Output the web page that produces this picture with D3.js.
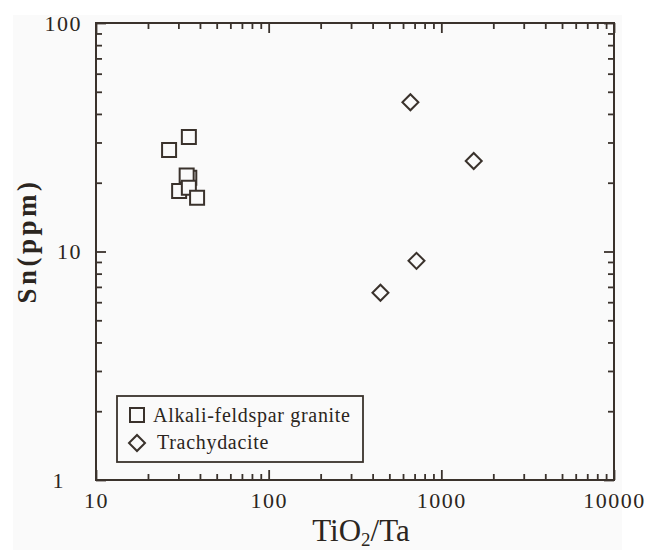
<!DOCTYPE html>
<html lang="en">
<head>
  <meta charset="UTF-8">
  <title>Sn vs TiO2/Ta</title>
  <style>
    body { margin: 0; background: #ffffff; }
    text { font-family: "Liberation Serif", "Times New Roman", serif; fill: #2b2520; }
  </style>
</head>
<body>
  <div id="chart"></div>

  <script src="https://d3js.org/d3.v7.min.js"></script>
  <script>
    // Alkali-feldspar granite (squares)
    const graniteX = [26.5, 34.5, 34.7, 33.5, 30.3, 34.5, 38.5];
    const graniteY = [27.8, 31.7, 21.0, 21.5, 18.4, 19.0, 17.2];
    // Trachydacite (diamonds)
    const trachyX = [662, 1540, 718, 444];
    const trachyY = [45, 24.9, 9.1, 6.6];

    const xMajor = [10, 100, 1000, 10000];
    const yMajor = [1, 10, 100];
    const legendLabels = ["Alkali-feldspar granite", "Trachydacite"];

    const width = 648, height = 550;
    const plotL = 96, plotR = 614, plotT = 23, plotB = 480;
    const ink = "#3a322c";

    const svg = d3.select("#chart").append("svg")
      .attr("width", width)
      .attr("height", height);

    // light page background of the original figure
    svg.append("rect")
      .attr("x", 13).attr("y", 15)
      .attr("width", 609).attr("height", 535)
      .attr("fill", "#fafafa");

    const x = d3.scaleLog().domain([10, 10000]).range([plotL, plotR]);
    const y = d3.scaleLog().domain([1, 100]).range([plotB, plotT]);

    // minor ticks: 2..9 in every decade
    function minors(majors) {
      const out = [];
      for (let i = 0; i < majors.length - 1; i++) {
        for (let k = 2; k <= 9; k++) out.push(majors[i] * k);
      }
      return out;
    }
    const xMinor = minors(xMajor);
    const yMinor = minors(yMajor);

    function styleAxis(g) {
      g.select(".domain").remove();
      g.selectAll("line").attr("stroke", ink).attr("stroke-width", 1.8);
    }

    function styleLabels(g) {
      g.selectAll("text")
        .attr("font-size", 22).attr("letter-spacing", 1.5)
        .attr("font-family", "Liberation Serif").attr("fill", "#2b2520");
    }

    // bottom axis
    svg.append("g")
      .attr("transform", `translate(0,${plotB})`)
      .call(d3.axisBottom(x).tickValues(xMinor).tickSize(-6).tickFormat(""))
      .call(styleAxis);
    svg.append("g")
      .attr("transform", `translate(0,${plotB})`)
      .call(d3.axisBottom(x).tickValues(xMajor).tickSize(-10).tickPadding(12).tickFormat(d3.format("d")))
      .call(styleAxis)
      .call(styleLabels);

    // top axis
    svg.append("g")
      .attr("transform", `translate(0,${plotT})`)
      .call(d3.axisTop(x).tickValues(xMinor).tickSize(-6).tickFormat(""))
      .call(styleAxis);
    svg.append("g")
      .attr("transform", `translate(0,${plotT})`)
      .call(d3.axisTop(x).tickValues(xMajor).tickSize(-10).tickFormat(""))
      .call(styleAxis);

    // left axis
    svg.append("g")
      .attr("transform", `translate(${plotL},0)`)
      .call(d3.axisLeft(y).tickValues(yMinor).tickSize(-6).tickFormat(""))
      .call(styleAxis);
    svg.append("g")
      .attr("transform", `translate(${plotL},0)`)
      .call(d3.axisLeft(y).tickValues(yMajor).tickSize(-10).tickPadding(14).tickFormat(d3.format("d")))
      .call(styleAxis)
      .call(styleLabels)
      .call(g => g.selectAll(".tick").filter(d => d === 1).select("text").attr("x", -31));

    // right axis
    svg.append("g")
      .attr("transform", `translate(${plotR},0)`)
      .call(d3.axisRight(y).tickValues(yMinor).tickSize(-6).tickFormat(""))
      .call(styleAxis);
    svg.append("g")
      .attr("transform", `translate(${plotR},0)`)
      .call(d3.axisRight(y).tickValues(yMajor).tickSize(-10).tickFormat(""))
      .call(styleAxis);

    // frame
    svg.append("rect")
      .attr("x", plotL).attr("y", plotT)
      .attr("width", plotR - plotL).attr("height", plotB - plotT)
      .attr("fill", "none").attr("stroke", ink).attr("stroke-width", 2);

    // axis titles
    const xt = svg.append("text")
      .attr("x", 361).attr("y", 541)
      .attr("text-anchor", "middle")
      .attr("font-size", 31);
    xt.append("tspan").text("TiO");
    xt.append("tspan").attr("font-size", 19).attr("dy", 5).text("2");
    xt.append("tspan").attr("dy", -5).text("/Ta");

    svg.append("text")
      .attr("transform", "translate(36,241) rotate(-90)")
      .attr("text-anchor", "middle")
      .attr("font-size", 27)
      .attr("font-weight", "bold")
      .attr("letter-spacing", 3.5)
      .text("Sn(ppm)");

    const square = d3.symbol().type(d3.symbolSquare).size(196);
    const diamond = d3.symbol().type(d3.symbolSquare).size(128);

    // data points
    const granite = graniteX.map((v, i) => ({ x: v, y: graniteY[i] }));
    const trachy = trachyX.map((v, i) => ({ x: v, y: trachyY[i] }));

    svg.selectAll(".granite")
      .data(granite)
      .enter().append("path")
      .attr("class", "granite")
      .attr("d", square)
      .attr("transform", d => `translate(${x(d.x)},${y(d.y)})`)
      .attr("fill", "#fafafa")
      .attr("stroke", ink)
      .attr("stroke-width", 2);

    svg.selectAll(".trachy")
      .data(trachy)
      .enter().append("path")
      .attr("class", "trachy")
      .attr("d", diamond)
      .attr("transform", d => `translate(${x(d.x)},${y(d.y)}) rotate(45)`)
      .attr("fill", "#fafafa")
      .attr("stroke", ink)
      .attr("stroke-width", 2);

    // legend
    svg.append("rect")
      .attr("x", 117).attr("y", 396)
      .attr("width", 246).attr("height", 66)
      .attr("fill", "#fafafa").attr("stroke", ink).attr("stroke-width", 1.8);

    svg.append("path")
      .attr("d", square)
      .attr("transform", "translate(137,415)")
      .attr("fill", "none").attr("stroke", ink).attr("stroke-width", 2);
    svg.append("path")
      .attr("d", diamond)
      .attr("transform", "translate(137,443) rotate(45)")
      .attr("fill", "none").attr("stroke", ink).attr("stroke-width", 2);

    svg.append("text")
      .attr("x", 153).attr("y", 422)
      .attr("font-size", 20).attr("letter-spacing", 0.7)
      .text(legendLabels[0]);
    svg.append("text")
      .attr("x", 157).attr("y", 449)
      .attr("font-size", 20).attr("letter-spacing", 0.7)
      .text(legendLabels[1]);
  </script>
</body>
</html>
